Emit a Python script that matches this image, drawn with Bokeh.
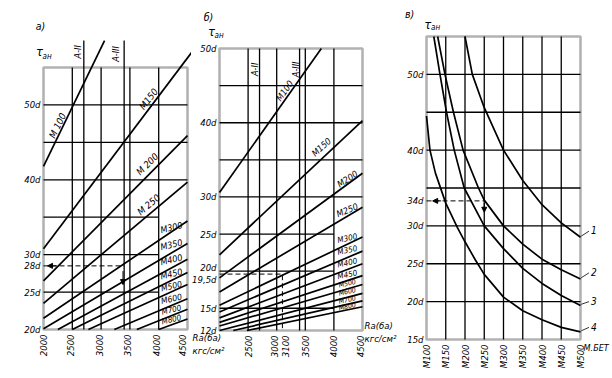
import math
from bokeh.plotting import figure
from bokeh.layouts import row
from bokeh.models import Range1d, BoxAnnotation, Label, Arrow, NormalHead
from bokeh.embed import file_html
from bokeh.resources import INLINE

FONT = "DejaVu Sans Condensed, Liberation Sans"

# ---------------- data: panel а) ----------------
grades_ab = ["М100", "М150", "М200", "М250", "М300", "М350",
             "М400", "М450", "М500", "М600", "М700", "М800"]
a_ra_start = [2000, 2000, 2000, 2000, 2000, 2000, 2250, 2500, 2780, 3230, 3620, 4000]
a_tau_start = [41.8, 30.8, 26.5, 23.5, 21.5, 20.1, 20.0, 20.0, 20.0, 20.0, 20.0, 20.0]
a_ra_end = [3060, 4610, 4500, 4500, 4500, 4500, 4500, 4500, 4500, 4500, 4500, 4500]
a_tau_end = [58.6, 57.4, 45.9, 39.7, 34.5, 31.5, 29.4, 27.6, 26.0, 24.1, 22.7, 21.4]
a_x_ticks = [2000, 2500, 3000, 3500, 4000, 4500]
a_y_ticks = [20, 25, 30, 40, 50]
a_x_grid = [2500, 3000, 3500, 4000]
a_y_grid_long = [40, 45, 50]
a_y_grid_short = [25, 30, 35]
steel_names = ["А-II", "А-III"]
steel_ra = [2700, 3400]
a_example_x = [2000, 3400]
a_example_tau = [28.5, 28.5]

# ---------------- data: panel б) ----------------
b_ra_start = [2000, 2000, 2000, 2000, 2000, 2000, 2000, 2000, 2000, 2000, 2240, 2480]
b_tau_start = [30.6, 22.2, 19.1, 17.2, 15.4, 14.5, 13.7, 13.1, 12.6, 12.0, 12.0, 12.0]
b_ra_end = [3780, 4500, 4500, 4500, 4500, 4500, 4500, 4500, 4500, 4500, 4500, 4500]
b_tau_end = [50.0, 40.3, 33.2, 28.6, 24.6, 22.7, 21.0, 19.4, 18.2, 17.0, 16.0, 15.2]
b_x_ticks = [2500, 3000, 3100, 3500, 4000, 4500]
b_y_ticks = [12, 15, 25, 30, 40, 50]
b_x_grid = [2500, 3000, 3500, 4000]
b_y_grid_long = [30, 35, 40, 45]
b_y_grid_short = [15, 20, 25]
b_example_x = [2000, 3100]
b_example_tau = [19.6, 19.6]

# ---------------- data: panel в) ----------------
v_grades = [100, 150, 200, 250, 300, 350, 400, 450, 500]
v_grade_labels = ["М100", "М150", "М200", "М250", "М300", "М350", "М400", "М450", "М500"]
v_y_ticks = [15, 20, 25, 30, 40, 50]
v_y_grid = [20, 25, 30, 35, 40, 45, 50]
c1_x = [200, 219, 250, 300, 350, 400, 450, 500]
c1_y = [55.0, 50.0, 45.6, 40.0, 36.0, 32.8, 30.4, 28.5]
c2_x = [129, 148, 170, 195, 235, 250, 300, 350, 400, 450, 500]
c2_y = [55.0, 50.0, 45.0, 40.0, 35.0, 33.4, 30.0, 27.6, 25.6, 24.2, 23.0]
c3_x = [119, 135, 152, 172, 198, 250, 300, 350, 400, 450, 500]
c3_y = [55.0, 50.0, 45.0, 40.0, 35.0, 30.0, 27.0, 24.4, 22.4, 20.8, 19.5]
c4_x = [100, 109, 123, 150, 180, 200, 227, 250, 300, 350, 400, 450, 500]
c4_y = [44.5, 40.0, 37.0, 33.0, 29.8, 27.9, 25.5, 23.6, 20.6, 18.8, 17.6, 16.6, 16.0]
curve_names = ["1", "2", "3", "4"]
v_example_x = [100, 250]
v_example_tau = [33.3, 33.3]

GRID_W = 1.3
LINE_W = 1.7


def make_fig(width, xr, yr):
    # the whole canvas is the data frame, so that texts around the boxes are not clipped
    p = figure(width=width, height=378, x_range=Range1d(*xr), y_range=Range1d(*yr),
               output_backend="svg", toolbar_location=None, title=None,
               x_axis_location=None, y_axis_location=None,
               min_border=0, outline_line_color=None)
    p.xgrid.visible = False
    p.ygrid.visible = False
    return p


def frame_box(p, l, r, b, t):
    p.add_layout(BoxAnnotation(left=l, right=r, bottom=b, top=t, fill_alpha=0,
                               line_color="black", line_width=2.6))


def lab(p, x, y, text, size=9.5, angle=0.0, align="center", baseline="middle", xo=0):
    p.add_layout(Label(x=x, y=y, text=text, angle=math.radians(angle),
                       text_font=FONT, text_font_style="italic",
                       text_font_size=f"{size}px", text_color="black",
                       text_align=align, text_baseline=baseline, x_offset=xo))


def arrow(p, xs, ys, xe, ye):
    p.add_layout(Arrow(end=NormalHead(size=5, fill_color="black", line_color="black", line_width=1),
                       x_start=xs, y_start=ys, x_end=xe, y_end=ye,
                       line_color="black", line_width=1))


def tick_labels(p, x_ticks, x_texts, x_base, y_ticks, y_texts, y_base, sy, x_shift=None):
    for i, (t, s) in enumerate(zip(x_ticks, x_texts)):
        xo = 0 if x_shift is None else x_shift[i]
        lab(p, t, x_base - 5.0 / sy, s, size=9.5, angle=90, align="right", xo=xo)
    for t, s in zip(y_ticks, y_texts):
        lab(p, y_base, t, s, size=9.5, align="right", xo=-3)


# ======================= panel а) =======================
A_SX, A_SY = 0.0576, 7.486
pa = make_fig(191, (2000 - 43 / A_SX, 2000 + 148 / A_SX), (20 - 49 / A_SY, 20 + 329 / A_SY))

pa.segment(x0=a_x_grid, y0=[20] * len(a_x_grid), x1=a_x_grid, y1=[55] * len(a_x_grid),
           line_color="black", line_width=GRID_W)
pa.segment(x0=[2000] * 3, y0=a_y_grid_long, x1=[4500] * 3, y1=a_y_grid_long,
           line_color="black", line_width=GRID_W)
pa.segment(x0=[2000] * 3, y0=a_y_grid_short, x1=[4000] * 3, y1=a_y_grid_short,
           line_color="black", line_width=GRID_W)
pa.segment(x0=steel_ra, y0=[20, 20], x1=steel_ra, y1=[58.6, 58.6],
           line_color="black", line_width=GRID_W)
pa.segment(x0=a_ra_start, y0=a_tau_start, x1=a_ra_end, y1=a_tau_end,
           line_color="black", line_width=LINE_W)
pa.line(a_example_x, a_example_tau, line_color="black", line_width=1, line_dash="5 3")
frame_box(pa, 2000, 4500, 20, 55)
arrow(pa, 2230, 28.5, 2070, 28.5)
arrow(pa, 3380, 27.8, 3380, 26.0)

tick_labels(pa, a_x_ticks, [str(v) for v in a_x_ticks], 20,
            a_y_ticks, [f"{v}d" for v in a_y_ticks], 2000, A_SY,
            x_shift=[0, -2, -2, -2, -2, -5])
lab(pa, 2000, 28.5, "28d", align="right", xo=-3)
lab(pa, 1948, 60.6, "а)", size=10.5)
lab(pa, 1931, 57.1, "τ", size=13)
lab(pa, 1983, 56.5, "ан", size=8, align="left")
lab(pa, 2599, 57.1, steel_names[0], size=9, angle=90)
lab(pa, 3250, 56.8, steel_names[1], size=9, angle=90)
lab(pa, 2243, 47.25, "М 100", size=9.5, angle=64)
lab(pa, 3823, 50.8, "М150", size=9.5, angle=52)
lab(pa, 3800, 42.1, "М 200", size=9.5, angle=45)
lab(pa, 3823, 36.7, "М 250", size=9.5, angle=40)
a_lab_tau = [33.6, 31.3, 29.3, 27.4, 25.8, 24.1, 22.6, 21.3]
a_lab_size = [9, 9, 9, 9, 8.5, 8.5, 8, 8]
for name, t, s in zip(grades_ab[4:], a_lab_tau, a_lab_size):
    lab(pa, 4222, t, name, size=s, angle=13)

# ======================= panel б) =======================
B_SX, B_SY = 0.0572, 7.42
pb = make_fig(211, (2000 - 28 / B_SX, 2000 + 183 / B_SX), (12 - 48 / B_SY, 12 + 330 / B_SY))

pb.segment(x0=b_x_grid + steel_ra, y0=[12] * 6, x1=b_x_grid + steel_ra, y1=[50] * 6,
           line_color="black", line_width=GRID_W)
pb.segment(x0=[2000] * 4, y0=b_y_grid_long, x1=[4500] * 4, y1=b_y_grid_long,
           line_color="black", line_width=GRID_W)
pb.segment(x0=[2000] * 3, y0=b_y_grid_short, x1=[4000] * 3, y1=b_y_grid_short,
           line_color="black", line_width=GRID_W)
pb.segment(x0=b_ra_start, y0=b_tau_start, x1=b_ra_end, y1=b_tau_end,
           line_color="black", line_width=LINE_W)
pb.line(b_example_x + [b_example_x[1]], b_example_tau + [12],
        line_color="black", line_width=1, line_dash="5 3")
frame_box(pb, 2000, 4500, 12, 50)

tick_labels(pb, b_x_ticks, [str(v) for v in b_x_ticks], 12,
            b_y_ticks, [f"{v}d" for v in b_y_ticks], 2000, B_SY,
            x_shift=[0, -2, 3, 0, 0, -2])
lab(pb, 2000, 20 + 4 / B_SY, "20d", align="right", xo=-3)
lab(pb, 2000, 19.6 - 5 / B_SY, "19,5d", align="right", xo=-3)
lab(pb, 1808, 54.2, "б)", size=10.5)
lab(pb, 1860, 52.3, "τ", size=13)
lab(pb, 1913, 51.8, "ан", size=8, align="left")
lab(pb, 2612, 47.2, steel_names[0], size=9, angle=90)
lab(pb, 3346, 47.2, steel_names[1], size=9, angle=90)
lab(pb, 3140, 44.3, "М100", size=9, angle=55)
lab(pb, 3783, 36.7, "М150", size=9, angle=42)
lab(pb, 4238, 32.4, "М200", size=9, angle=33)
lab(pb, 4233, 28.2, "М250", size=9, angle=22)
b_lab_tau = [24.4, 22.8, 21.1, 19.5, 18.3, 17.2, 16.1, 15.2]
b_lab_size = [8, 8, 8, 8, 7, 7, 7, 7]
for name, t, s in zip(grades_ab[4:], b_lab_tau, b_lab_size):
    lab(pb, 4235, t, name, size=s, angle=12)
lab(pb, 1530, 11.0, "Rа(ба)", size=9.5, align="left")
lab(pb, 1530, 9.3, "кгс/см²", size=9.5, align="left")
lab(pb, 4535, 12.7, "Rа(ба)", size=9.5, align="left")
lab(pb, 4535, 10.9, "кгс/см²", size=9.5, align="left")

# ======================= panel в) =======================
V_SX, V_SY = 0.385, 7.575
pv = make_fig(210, (100 - 24 / V_SX, 100 + 186 / V_SX), (15 - 39 / V_SY, 15 + 339 / V_SY))

inner = v_grades[1:-1]
pv.segment(x0=inner, y0=[15] * len(inner), x1=inner, y1=[55] * len(inner),
           line_color="black", line_width=GRID_W)
pv.segment(x0=[100] * len(v_y_grid), y0=v_y_grid, x1=[500] * len(v_y_grid), y1=v_y_grid,
           line_color="black", line_width=GRID_W)
curves = [(c1_x, c1_y), (c2_x, c2_y), (c3_x, c3_y), (c4_x, c4_y)]
for cx, cy in curves:
    pv.line(cx, cy, line_color="black", line_width=LINE_W)
pv.line(v_example_x, v_example_tau, line_color="black", line_width=1, line_dash="5 3")
frame_box(pv, 100, 500, 15, 55)
arrow(pv, 138, 33.3, 116, 33.3)
arrow(pv, 250, 33.0, 250, 31.8)

tick_labels(pv, v_grades, v_grade_labels, 15,
            v_y_ticks, [f"{v}d" for v in v_y_ticks], 100, V_SY)
lab(pv, 100, 33.3, "34d", align="right", xo=-3)
lab(pv, 56, 58.0, "в)", size=10.5)
lab(pv, 103, 56.6, "τ", size=13)
lab(pv, 112, 56.2, "ан", size=8, align="left")
num_tau = [29.4, 23.9, 20.1, 16.7]
for name, (cx, cy), t in zip(curve_names, curves, num_tau):
    pv.line([502, 522], [cy[-1] + 0.15, t - 0.1], line_color="black", line_width=0.8)
    lab(pv, 527, t, name, size=10, align="left")
lab(pv, 508, 13.9, "М.БЕТ", size=9, align="left")

layout = row(pa, pb, pv)
open("out.html", "w").write(file_html(layout, INLINE))
